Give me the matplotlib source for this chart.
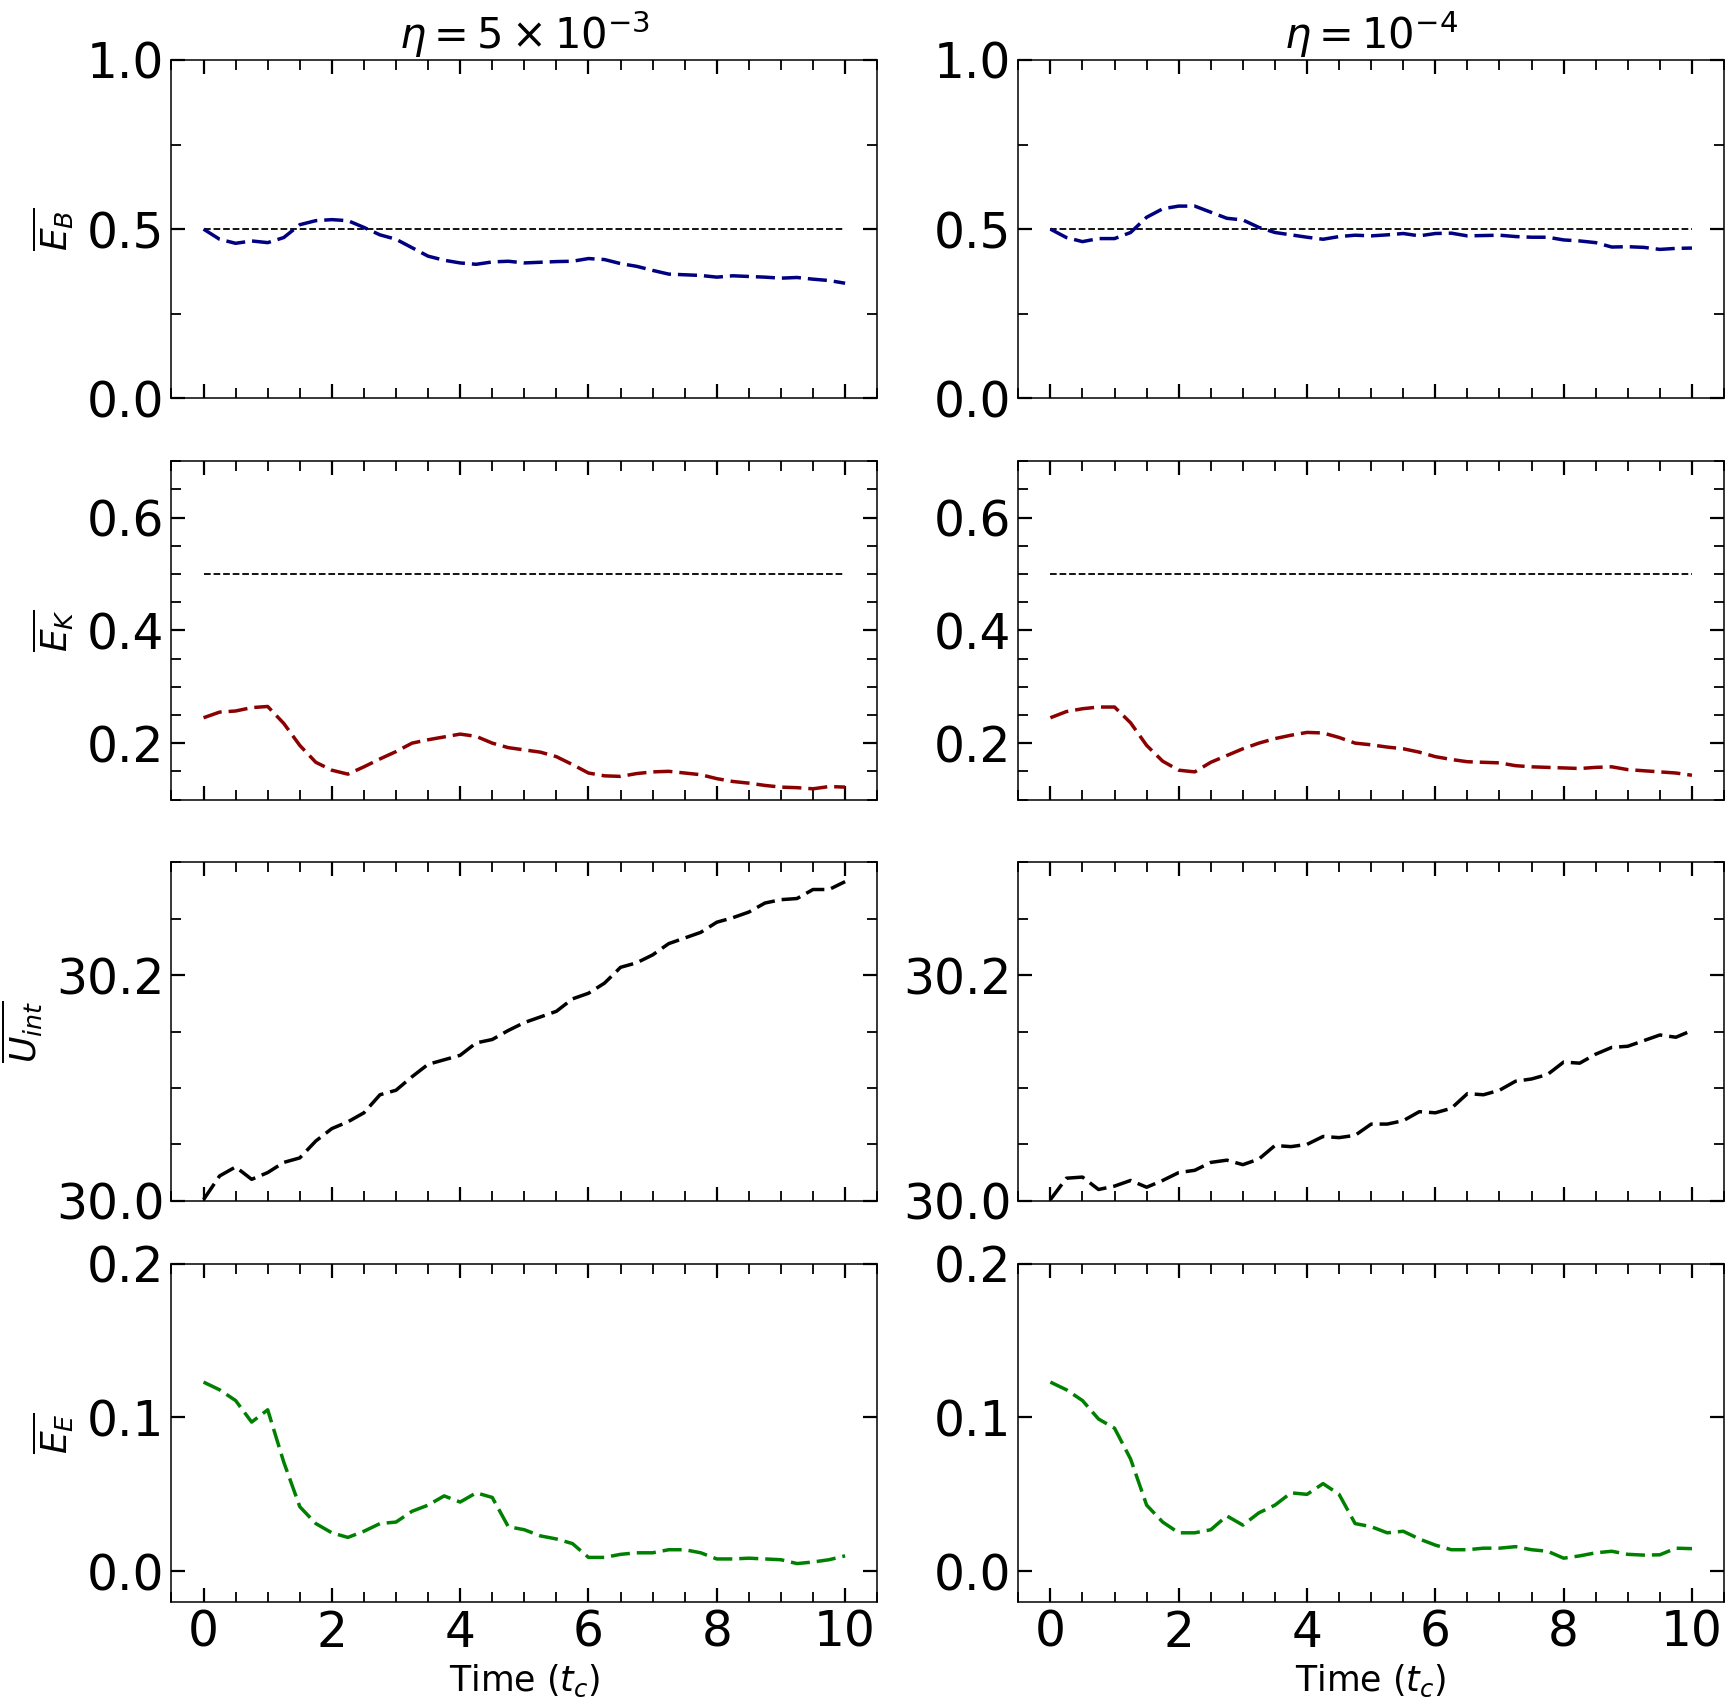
import numpy as np
import matplotlib
matplotlib.use("Agg")
import matplotlib.pyplot as plt
from matplotlib.ticker import MultipleLocator, NullLocator

# time axis, samples every 0.25 t_c
time = np.linspace(0, 10, 41)

# magnetic energy
eb_hi = [0.500, 0.470, 0.458, 0.465, 0.460, 0.475, 0.513, 0.525, 0.528, 0.525,
         0.505, 0.483, 0.470, 0.445, 0.420, 0.408, 0.400, 0.396, 0.403, 0.405,
         0.400, 0.402, 0.404, 0.405, 0.413, 0.410, 0.398, 0.390, 0.378, 0.367,
         0.365, 0.363, 0.358, 0.362, 0.360, 0.358, 0.355, 0.357, 0.352, 0.348, 0.340]
eb_lo = [0.500, 0.475, 0.463, 0.472, 0.472, 0.490, 0.535, 0.560, 0.568, 0.568,
         0.550, 0.532, 0.527, 0.505, 0.490, 0.483, 0.476, 0.470, 0.478, 0.482,
         0.480, 0.483, 0.487, 0.480, 0.487, 0.488, 0.480, 0.481, 0.482, 0.478,
         0.476, 0.476, 0.468, 0.465, 0.460, 0.447, 0.448, 0.446, 0.440, 0.443, 0.444]

# kinetic energy
ek_hi = [0.245, 0.255, 0.257, 0.263, 0.265, 0.235, 0.196, 0.166, 0.152, 0.145,
         0.158, 0.172, 0.185, 0.200, 0.206, 0.211, 0.216, 0.212, 0.200, 0.192,
         0.188, 0.184, 0.176, 0.162, 0.147, 0.142, 0.141, 0.146, 0.149, 0.150,
         0.147, 0.144, 0.137, 0.132, 0.129, 0.125, 0.122, 0.121, 0.119, 0.123, 0.122]
ek_lo = [0.245, 0.256, 0.261, 0.264, 0.264, 0.236, 0.196, 0.168, 0.152, 0.149,
         0.166, 0.178, 0.190, 0.200, 0.208, 0.214, 0.219, 0.218, 0.210, 0.200,
         0.197, 0.193, 0.190, 0.184, 0.176, 0.171, 0.167, 0.166, 0.165, 0.160,
         0.158, 0.157, 0.156, 0.155, 0.157, 0.158, 0.153, 0.151, 0.149, 0.147, 0.143]

# internal energy
ui_hi = [30.001, 30.022, 30.030, 30.019, 30.025, 30.034, 30.038, 30.053, 30.064, 30.070,
         30.078, 30.094, 30.098, 30.110, 30.121, 30.125, 30.129, 30.140, 30.143, 30.151,
         30.158, 30.163, 30.168, 30.179, 30.184, 30.193, 30.207, 30.211, 30.218, 30.228,
         30.233, 30.238, 30.247, 30.251, 30.256, 30.264, 30.267, 30.268, 30.276, 30.276, 30.283]
ui_lo = [30.001, 30.020, 30.021, 30.010, 30.013, 30.018, 30.012, 30.018, 30.025, 30.027,
         30.034, 30.036, 30.032, 30.037, 30.049, 30.048, 30.050, 30.057, 30.056, 30.058,
         30.068, 30.068, 30.071, 30.079, 30.078, 30.082, 30.095, 30.094, 30.098, 30.106,
         30.108, 30.112, 30.123, 30.122, 30.130, 30.136, 30.137, 30.142, 30.147, 30.145, 30.151]

# electric energy
ee_hi = [0.123, 0.118, 0.111, 0.097, 0.105, 0.071, 0.042, 0.031, 0.025, 0.022,
         0.026, 0.031, 0.032, 0.039, 0.043, 0.049, 0.045, 0.051, 0.048, 0.029,
         0.027, 0.023, 0.021, 0.018, 0.009, 0.009, 0.011, 0.012, 0.012, 0.014,
         0.014, 0.012, 0.008, 0.008, 0.0085, 0.008, 0.0075, 0.005, 0.006, 0.0075, 0.010]
ee_lo = [0.123, 0.118, 0.111, 0.099, 0.093, 0.073, 0.043, 0.032, 0.025, 0.025,
         0.027, 0.036, 0.030, 0.038, 0.043, 0.051, 0.050, 0.057, 0.050, 0.031,
         0.029, 0.025, 0.026, 0.021, 0.017, 0.014, 0.014, 0.015, 0.015, 0.016,
         0.014, 0.013, 0.0085, 0.010, 0.012, 0.013, 0.011, 0.0105, 0.0107, 0.015, 0.0147]

titles = [r'$\eta = 5 \times 10^{-3}$', r'$\eta = 10^{-4}$']
ylabels = [r'$\overline{E_B}$', r'$\overline{E_K}$', r'$\overline{U_{int}}$', r'$\overline{E_E}$']
colors = ['navy', 'darkred', 'black', 'green']
ylims = [(0, 1), (0.1, 0.7), (30.0, 30.3), (-0.02, 0.2)]
ymajor = [0.5, 0.2, 0.2, 0.1]
yminor = [0.25, 0.05, 0.05, None]
ref_line = [0.5, 0.5, None, None]

series = [[eb_hi, eb_lo], [ek_hi, ek_lo], [ui_hi, ui_lo], [ee_hi, ee_lo]]

fig, axes = plt.subplots(4, 2, figsize=(17.32, 17.03), dpi=100)
plt.subplots_adjust(left=0.099, right=0.9954, top=0.9648, bottom=0.0593,
                    wspace=0.2, hspace=0.186)

for r in range(4):
    for c in range(2):
        ax = axes[r, c]
        if ref_line[r] is not None:
            ax.plot([time[0], time[-1]], [ref_line[r], ref_line[r]], '--',
                    color='black', lw=1.3)
        line, = ax.plot(time, series[r][c], color=colors[r], lw=2.5)
        line.set_dashes((5.5, 2.0))

        ax.set_xlim(-0.5, 10.5)
        ax.set_ylim(*ylims[r])
        ax.xaxis.set_major_locator(MultipleLocator(2))
        ax.xaxis.set_minor_locator(MultipleLocator(0.5))
        ax.yaxis.set_major_locator(MultipleLocator(ymajor[r]))
        if yminor[r] is not None:
            ax.yaxis.set_minor_locator(MultipleLocator(yminor[r]))
        else:
            ax.yaxis.set_minor_locator(NullLocator())

        ax.tick_params(which='both', direction='in', top=True, right=True,
                       labelsize=35)
        ax.tick_params(which='major', length=10, width=1.6, pad=5)
        ax.tick_params(which='minor', length=7.5, width=1.3)
        for sp in ax.spines.values():
            sp.set_linewidth(1.1)

        if r < 3:
            ax.set_xticklabels([])
        else:
            ax.set_xlabel(r'Time ($t_c$)', fontsize=25)
        if r == 0:
            ax.set_title(titles[c], fontsize=30)
        if c == 0:
            ax.set_ylabel(ylabels[r], fontsize=26, labelpad=8)

fig.savefig('out.png', dpi=100)
